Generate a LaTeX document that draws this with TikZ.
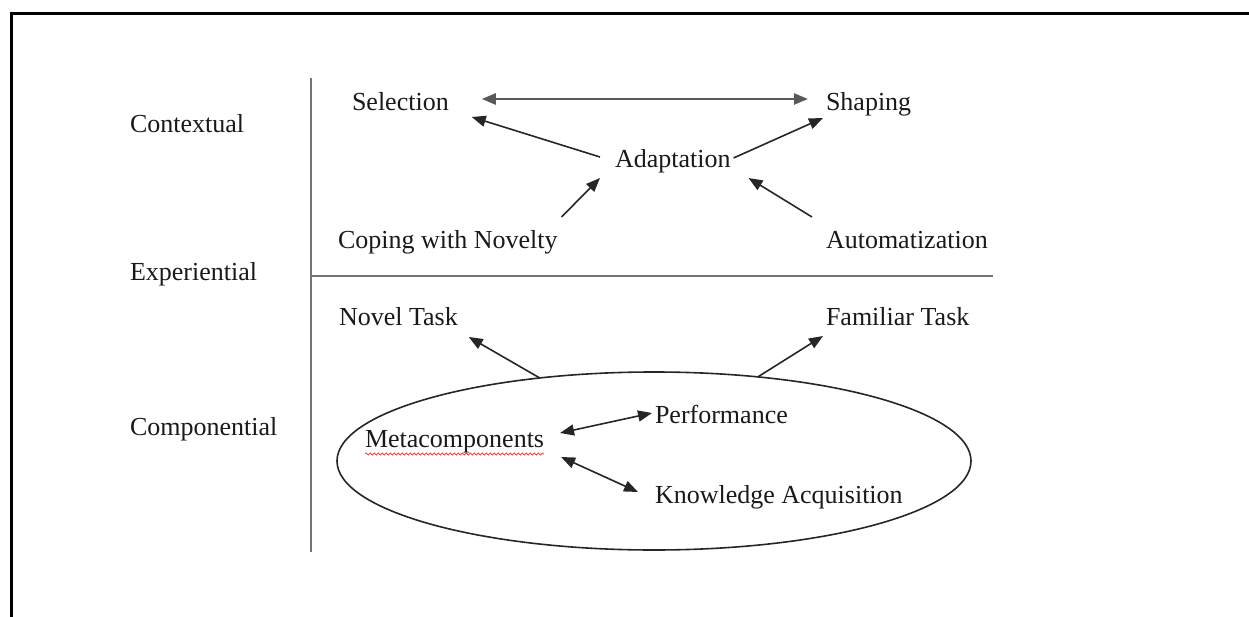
\documentclass[tikz,border=0pt]{standalone}
\usepackage{fontspec}
\setmainfont{Liberation Serif}
\usetikzlibrary{arrows.meta,shapes.geometric,decorations.pathmorphing}
\begin{document}
\begin{tikzpicture}[x=1pt,y=-1pt,
  every node/.style={inner sep=0pt, outer sep=0pt, anchor=base west, text=black!90, font=\fontsize{26}{31}\selectfont},
  arr/.style={-{Triangle[length=14pt,width=11pt]}, line width=1.6pt, black!85},
  twoarr/.style={{Triangle[length=14pt,width=11pt]}-{Triangle[length=14pt,width=11pt]}, line width=1.6pt, black!85},
  axisline/.style={line width=2pt, black!55}]
\useasboundingbox (0,0) rectangle (1249,617);
\draw[line width=3pt] (11,617) -- (11,14) -- (1249,14);
\draw[axisline] (311,78) -- (311,552);
\draw[axisline] (311,276) -- (993,276);
\node (ctx) at (130,133) {Contextual};
\node (exp) at (130,281) {Experiential};
\node (cmp) at (130,435) {Componential};
\node (sel) at (352,111) {Selection};
\node (shp) at (826,111) {Shaping};
\node (adp) at (615,168) {Adaptation};
\node (cop) at (338,249) {Coping with Novelty};
\node (aut) at (826,249) {Automatization};
\node (nov) at (339,326) {Novel Task};
\node (fam) at (826,326) {Familiar Task};
\node[draw, ellipse, line width=1.6pt, black!85, anchor=center, minimum width=634pt, minimum height=178pt] (ell) at (654,461) {};
\node (meta) at (365,447) {Metacomponents};
\node (perf) at (655,423) {Performance};
\node (know) at (655,503) {Knowledge Acquisition};
\draw[red!75, line width=0.8pt, decorate, decoration={snake, segment length=4pt, amplitude=1pt}] ([yshift=-7]meta.base west) -- ([yshift=-7]meta.base east);
\draw[twoarr, line width=2.4pt, black!65] ([shift={(33,-12)}]sel.base east) -- ([shift={(-18,-12)}]shp.base west);
\draw[arr] ([shift={(-15,-11)}]adp.base west) -- ([shift={(23,6)}]sel.base east);
\draw[arr] ([shift={(3,-10)}]adp.base east) -- ([shift={(-3,7)}]shp.base west);
\draw[arr] ([shift={(4,-32)}]cop.base east) -- ([shift={(-15,10)}]adp.base west);
\draw[arr] ([shift={(-14,-32)}]aut.base west) -- ([shift={(18,10)}]adp.base east);
\draw[arr] (ell.144) -- ([shift={(11,11)}]nov.base east);
\draw[arr] (ell.39.5) -- ([shift={(-3,10)}]fam.base west);
\draw[twoarr] ([shift={(16,-14)}]meta.base east) -- ([shift={(-3,-10)}]perf.base west);
\draw[twoarr] ([shift={(17,10)}]meta.base east) -- ([shift={(-17,-11)}]know.base west);
\end{tikzpicture}
\end{document}
